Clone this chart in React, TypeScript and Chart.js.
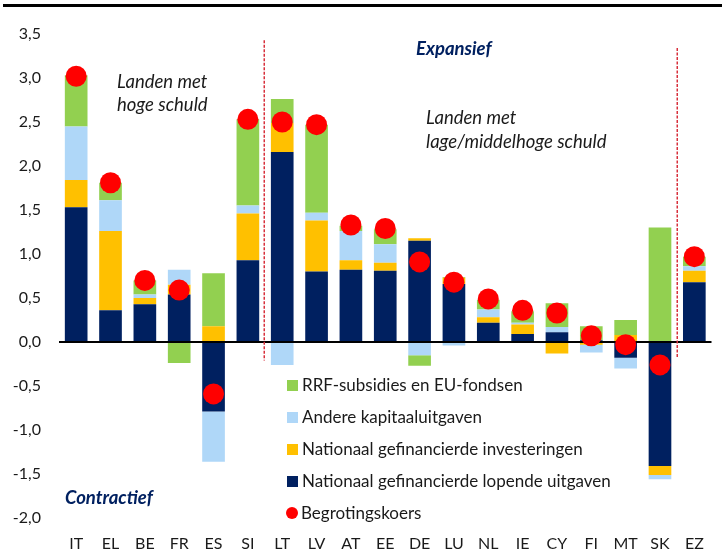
import React, { useEffect, useRef } from "react";
import { Chart, registerables } from "chart.js";

Chart.register(...registerables);

const FONT = "Lato, 'Noto Sans', sans-serif";

const categories = ["IT", "EL", "BE", "FR", "ES", "SI", "LT", "LV", "AT", "EE", "DE", "LU", "NL", "IE", "CY", "FI", "MT", "SK", "EZ"];

// Stacked components (% of GDP)
const lopende = [1.53, 0.36, 0.43, 0.54, -0.79, 0.93, 2.16, 0.80, 0.82, 0.81, 1.15, 0.66, 0.22, 0.09, 0.11, 0.02, -0.18, -1.41, 0.68];
const investeringen = [0.31, 0.90, 0.07, 0.11, 0.18, 0.53, 0.33, 0.58, 0.11, 0.09, 0.03, 0.07, 0.06, 0.11, -0.13, -0.03, 0.08, -0.10, 0.13];
const kapitaal = [0.61, 0.35, 0.04, 0.17, -0.57, 0.09, -0.26, 0.09, 0.33, 0.21, -0.15, -0.04, 0.09, 0.02, 0.06, -0.09, -0.12, -0.05, 0.05];
const rrf = [0.58, 0.20, 0.16, -0.24, 0.60, 0.98, 0.27, 1.00, 0.06, 0.17, -0.12, 0.01, 0.11, 0.13, 0.27, 0.16, 0.17, 1.30, 0.11];
const begrotingskoers = [3.02, 1.81, 0.70, 0.59, -0.59, 2.53, 2.50, 2.47, 1.33, 1.29, 0.91, 0.68, 0.49, 0.36, 0.33, 0.07, -0.03, -0.26, 0.97];

const seriesNames = [
  "Nationaal gefinancierde lopende uitgaven",
  "Nationaal gefinancierde investeringen",
  "Andere kapitaaluitgaven",
  "RRF-subsidies en EU-fondsen",
];
const dotName = "Begrotingskoers";
const seriesColors = ["#002060", "#FFC000", "#AFD7F8", "#92D050"];
const dotColor = "#FF0000";

// Vertical dashed separators: category position, top and bottom value
const dividerPositions = [5.46, 17.5];
const dividerTops = [3.43, 3.34];
const dividerBottoms = [-0.21, -0.17];

const yMin = -2;
const yMax = 3.5;
const yStep = 0.5;

const dividerPlugin = {
  id: "dividers",
  beforeDatasetsDraw(chart: any) {
    const { ctx, scales } = chart;
    ctx.save();
    ctx.strokeStyle = "#D8303C";
    ctx.lineWidth = 1.5;
    ctx.setLineDash([3, 1.5]);
    dividerPositions.forEach((p, i) => {
      const x = Math.round(scales.x.getPixelForValue(p)) + 0.25;
      ctx.beginPath();
      ctx.moveTo(x, scales.y.getPixelForValue(dividerTops[i]));
      ctx.lineTo(x, scales.y.getPixelForValue(dividerBottoms[i]));
      ctx.stroke();
    });
    ctx.restore();
  },
};

export default function App() {
  const ref = useRef<HTMLCanvasElement>(null);

  useEffect(() => {
    document.body.style.margin = "0";
    const stacks = [lopende, investeringen, kapitaal, rrf];
    const chart = new Chart(ref.current!, {
      type: "bar",
      data: {
        labels: categories,
        datasets: [
          {
            type: "line",
            label: dotName,
            data: begrotingskoers,
            showLine: false,
            pointRadius: 10.5,
            pointHoverRadius: 10.5,
            pointBackgroundColor: dotColor,
            pointBorderWidth: 0,
            borderColor: dotColor,
            backgroundColor: dotColor,
            stack: "dots",
            order: 0,
          } as any,
          ...stacks.map((d, i) => ({
            type: "bar" as const,
            label: seriesNames[i],
            data: d,
            backgroundColor: seriesColors[i],
            borderWidth: 0,
            stack: "bars",
            order: 1,
            barPercentage: 0.66,
            categoryPercentage: 1,
          })),
        ],
      },
      options: {
        responsive: false,
        maintainAspectRatio: false,
        animation: false,
        devicePixelRatio: 1,
        layout: { padding: { top: 34, right: 0, left: 0, bottom: 0 } },
        plugins: {
          legend: { display: false },
          tooltip: { enabled: false },
          title: { display: false },
        },
        events: [],
        scales: {
          x: {
            stacked: true,
            grid: { display: false, drawTicks: false },
            border: { display: false },
            ticks: {
              color: "#1a1a1a",
              font: { family: FONT, size: 16 },
              padding: 16,
              maxRotation: 0,
              autoSkip: false,
            },
            afterFit: (axis: any) => {
              axis.height = 35;
            },
          },
          y: {
            stacked: true,
            min: yMin,
            max: yMax,
            grid: {
              drawTicks: false,
              color: (c: any) => (c.tick && c.tick.value === 0 ? "#000000" : "rgba(0,0,0,0)"),
              lineWidth: (c: any) => (c.tick && c.tick.value === 0 ? 2 : 0),
            },
            border: { display: false },
            ticks: {
              stepSize: yStep,
              color: "#1a1a1a",
              font: { family: FONT, size: 16 },
              padding: 18,
              callback: (v: any) => Number(v).toFixed(1).replace(".", ","),
            },
            afterFit: (axis: any) => {
              axis.width = 59;
            },
          },
        },
      },
      plugins: [dividerPlugin],
    });
    return () => chart.destroy();
  }, []);

  const txt = (extra: React.CSSProperties): React.CSSProperties => ({
    position: "absolute",
    whiteSpace: "nowrap",
    lineHeight: "20px",
    fontFamily: FONT,
    ...extra,
  });

  const legendItems = [
    ...seriesNames.map((n, i) => ({ name: n, color: seriesColors[i], dot: false })).reverse(),
    { name: dotName, color: dotColor, dot: true },
  ];

  return (
    <div
      style={{
        position: "fixed",
        left: 0,
        top: 0,
        width: 722,
        height: 553,
        overflow: "hidden",
        background: "#ffffff",
      }}
    >
      <canvas ref={ref} width={722} height={553} style={{ display: "block", width: 722, height: 553 }} />
      <div style={{ position: "absolute", left: 3, top: 4, width: 719, height: 3, background: "#000" }} />

      <div style={txt({ left: 117, top: 70, fontStyle: "italic", fontSize: 18.5, color: "#1a1a1a", lineHeight: "23px" })}>
        Landen met
        <br />
        hoge schuld
      </div>
      <div style={txt({ left: 416, top: 37, fontStyle: "italic", fontWeight: 700, fontSize: 18.5, color: "#002060", lineHeight: "22px" })}>
        Expansief
      </div>
      <div style={txt({ left: 426, top: 105, fontStyle: "italic", fontSize: 18.5, color: "#1a1a1a", lineHeight: "24px" })}>
        Landen met
        <br />
        lage/middelhoge schuld
      </div>
      <div style={txt({ left: 65, top: 486, fontStyle: "italic", fontWeight: 700, fontSize: 18.5, color: "#002060", lineHeight: "22px" })}>
        Contractief
      </div>

      {legendItems.map((it, i) => (
        <div key={it.name} style={txt({ left: 286, top: 374 + i * 32, fontSize: 17, color: "#1a1a1a", lineHeight: "22px", display: "flex", alignItems: "center" })}>
          <span
            style={{
              display: "inline-block",
              width: it.dot ? 12 : 11,
              height: it.dot ? 12 : 11,
              borderRadius: it.dot ? "50%" : 0,
              background: it.color,
              marginRight: it.dot ? 3 : 4,
              marginLeft: it.dot ? 0 : 1,
            }}
          />
          {it.name}
        </div>
      ))}
    </div>
  );
}
